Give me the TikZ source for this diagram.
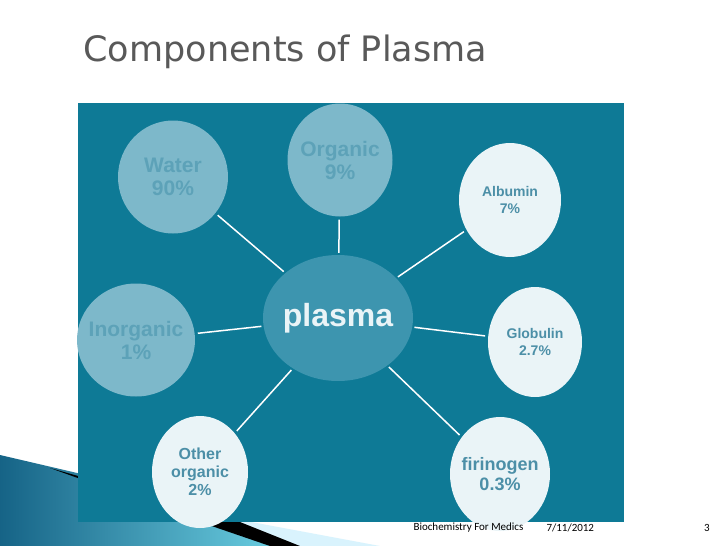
\documentclass[tikz,border=0pt]{standalone}
\usepackage{fontspec}
\setmainfont{Liberation Sans}
\newfontfamily\titlefont{DejaVu Sans}
\newfontfamily\footfont{Carlito}
\usetikzlibrary{positioning, shapes.geometric}
\definecolor{panel}{HTML}{0E7A96}
\definecolor{paleblob}{HTML}{7DB8CA}
\definecolor{whiteblob}{HTML}{EAF4F7}
\definecolor{hub}{HTML}{3D95AF}
\definecolor{paletext}{HTML}{5DA2B8}
\definecolor{whitetext}{HTML}{4C8FA7}
\definecolor{titlegray}{HTML}{595959}
\definecolor{swoosh}{HTML}{1F8EC0}
\begin{document}
\begin{tikzpicture}[
                x=1pt, y=-1pt,
                spoke/.style={draw=white, line width=1.5pt, shorten >=3pt, shorten <=2pt},
                blob/.style={ellipse, inner sep=-20pt, align=center, font=\bfseries\fontsize{15}{16}\selectfont},
                paleblob/.style={blob, fill=paleblob, text=paletext, font=\bfseries\fontsize{21}{23}\selectfont},
                whiteblob/.style={blob, fill=whiteblob, text=whitetext, font=\bfseries\fontsize{14}{17}\selectfont},
            ]
                \useasboundingbox (0,0) rectangle (728,546);
                \fill[white] (0,0) rectangle (728,546);

                % bottom-left swoosh
                \shade[left color=swoosh!70!black, right color=swoosh!60!cyan!60!white] (0,455) -- (150,490) -- (300,546) -- (0,546) -- cycle;
                \fill[cyan!15!white] (160,505) -- (380,546) -- (290,546) -- cycle;
                \fill[black] (50,468) -- (240,522) -- (300,546) -- (270,546) -- (200,522) -- cycle;

                % title
                \node[anchor=west, text=titlegray, font=\titlefont\fontsize{35}{38}\selectfont] (title) at (80,52) {Components of Plasma};

                % panel
                \fill[panel] (78,103) rectangle (624,522);

                % hub and the parts
                \node[blob, fill=hub, text=whiteblob, minimum width=150pt, minimum height=126pt, font=\bfseries\fontsize{32}{34}\selectfont] (plasma) at (338,318) {plasma};
                \node[paleblob, minimum width=110pt, minimum height=113pt] (water) at (173,177) {Water\\90\%};
                \node[paleblob, minimum width=105pt, minimum height=113pt] (organic) at (340,160) {Organic\\9\%};
                \node[paleblob, minimum width=118pt, minimum height=113pt] (inorganic) at (136,340) {Inorganic\\1\%};
                \node[whiteblob, minimum width=102pt, minimum height=114pt] (albumin) at (510,200) {Albumin\\7\%};
                \node[whiteblob, minimum width=94pt, minimum height=110pt] (globulin) at (535,342) {Globulin\\2.7\%};
                \node[whiteblob, minimum width=96pt, minimum height=112pt, font=\bfseries\fontsize{16}{18}\selectfont] (other) at (200,472) {Other\\organic\\2\%};
                \node[whiteblob, minimum width=100pt, minimum height=114pt, font=\bfseries\fontsize{18}{20}\selectfont] (firinogen) at (500,474) {firinogen\\0.3\%};

                % connect the hub with every part
                \foreach \dest in {water, organic, inorganic, albumin, globulin, other, firinogen}
                    \path[spoke] (plasma) -- (\dest);

                % footer
                \node[anchor=west, font=\footfont\fontsize{11}{12}\selectfont] (footname) at (410,528) {Biochemistry For Medics};
                \node[anchor=west, font=\footfont\fontsize{11}{12}\selectfont] (footdate) at (543,528) {7/11/2012};
                \node[font=\footfont\fontsize{11}{12}\selectfont] (footpage) at (707,528) {3};
            \end{tikzpicture}
\end{document}
